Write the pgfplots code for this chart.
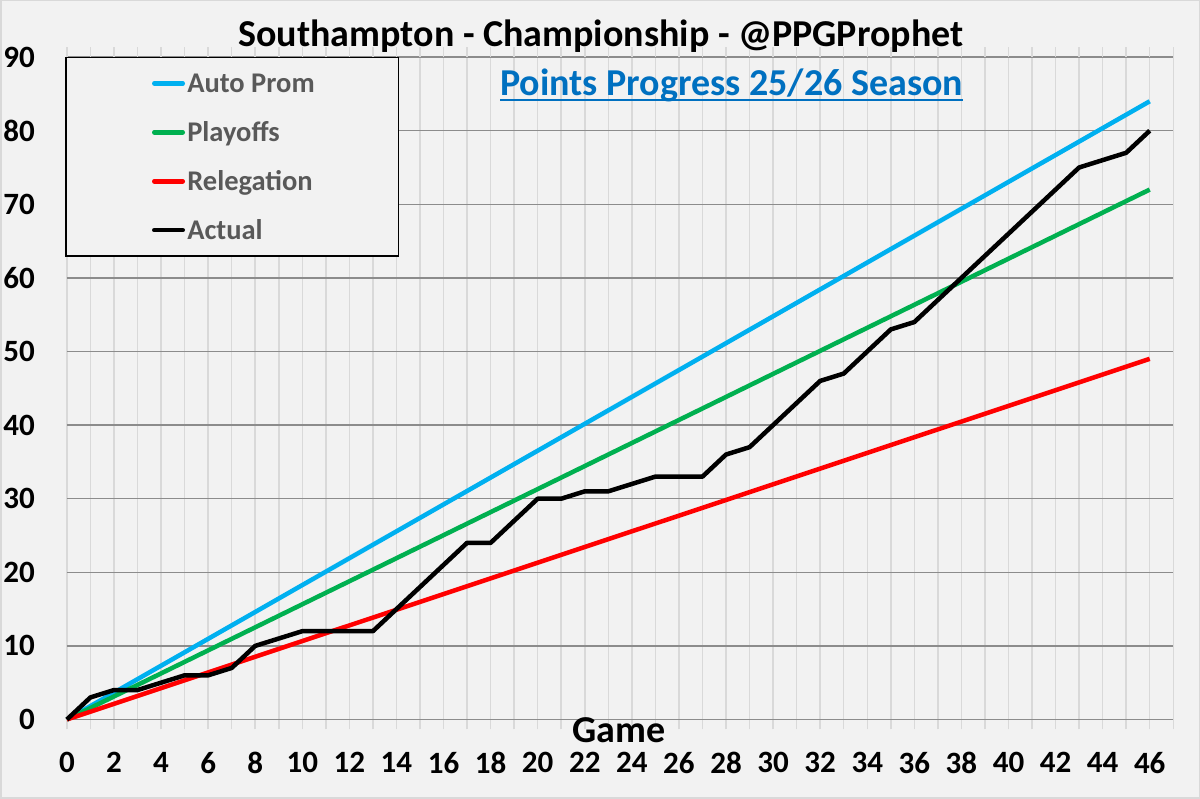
\documentclass[border=0pt]{standalone}
\usepackage{fontspec}
\setmainfont{Carlito}
\usepackage{pgfplots}
\pgfplotsset{compat=1.18}
\definecolor{bg}{HTML}{F2F2F2}
\definecolor{bordergray}{HTML}{D9D9D9}
\definecolor{vgrid}{HTML}{D9D9D9}
\definecolor{hgrid}{HTML}{8C8C8C}
\definecolor{autoblue}{HTML}{00B0F0}
\definecolor{playgreen}{HTML}{00B050}
\definecolor{relred}{HTML}{FF0000}
\definecolor{subblue}{HTML}{0070C0}
\definecolor{legendgray}{HTML}{595959}
\begin{document}
\begin{tikzpicture}
\path[use as bounding box] (0,0) rectangle (1200pt,799pt);
\fill[bg] (0,0) rectangle (1200pt,799pt);
\draw[bordergray, line width=1.5pt] (0.75pt,0.75pt) rectangle (1199.25pt,798.25pt);
\begin{axis}[
  at={(66.9pt,79.5pt)}, anchor=south west,
  scale only axis, width=1106.4pt, height=662.4pt,
  xmin=0, xmax=47, ymin=0, ymax=90,
  clip=false,
  xtick={0,2,...,46}, minor xtick={1,3,...,47},
  ytick={10,20,...,90},
  extra y ticks={0},
  extra y tick style={grid style={vgrid, line width=1.5pt}},
  xmajorgrids, xminorgrids, ymajorgrids,
  x grid style={vgrid, line width=1.5pt},
  y grid style={hgrid, line width=1.5pt},
  axis line style={draw=none},
  tick align=outside,
  major tick length=10pt, minor tick length=10pt,
  xtick style={vgrid, line width=1.5pt},
  ytick style={draw=none},
  /pgf/number format/assume math mode=true,
  ticklabel style={font=\fontsize{31}{31}\selectfont\bfseries, text=black},
  xticklabel style={anchor=north, inner sep=0pt, yshift=-22.5pt},
  yticklabel style={anchor=east, inner sep=0pt, xshift=-21.9pt},
  every axis title shift=0pt,
  title={Southampton - Championship - @PPGProphet},
  title style={at={(axis description cs:0.4827,1)}, anchor=base, yshift=10.1pt, inner sep=0pt, font=\fontsize{38}{38}\selectfont\bfseries},
  xlabel={Game},
  xlabel style={at={(axis description cs:0.499,0)}, anchor=base, yshift=-23.5pt, inner sep=0pt, font=\fontsize{38}{38}\selectfont\bfseries},
  legend cell align=left,
  legend style={at={(axis description cs:-0.0017,1.0002)}, anchor=north west,
    draw=black, line width=1.5pt, fill=bg,
    inner xsep=84pt, inner ysep=14.5pt, row sep=26.4pt, column sep=0pt,
    nodes={inner sep=0pt, text height=18pt, text depth=0pt, font=\fontsize{28.5}{28.5}\selectfont\bfseries, text=legendgray}},
  legend image code/.code={\path (0pt,-9pt) (33pt,9pt); \draw[#1, line cap=round] (2.25pt,0pt) -- (30.75pt,0pt);},
]
\addplot[autoblue, line width=4.5pt] coordinates {(0,0) (46,84)};
\addlegendentry{Auto Prom}
\addplot[playgreen, line width=4.5pt] coordinates {(0,0) (46,72)};
\addlegendentry{Playoffs}
\addplot[relred, line width=4.5pt] coordinates {(0,0) (46,49)};
\addlegendentry{Relegation}
\addplot[black, line width=4.5pt, line join=round] coordinates {
(0,0) (1,3) (2,4) (3,4) (4,5) (5,6) (6,6) (7,7) (8,10) (9,11)
(10,12) (11,12) (12,12) (13,12) (14,15) (15,18) (16,21) (17,24) (18,24) (19,27)
(20,30) (21,30) (22,31) (23,31) (24,32) (25,33) (26,33) (27,33) (28,36) (29,37)
(30,40) (31,43) (32,46) (33,47) (34,50) (35,53) (36,54) (37,57) (38,60) (39,63)
(40,66) (41,69) (42,72) (43,75) (44,76) (45,77) (46,80)};
\addlegendentry{Actual}
\node[anchor=base, inner sep=0pt, font=\fontsize{38}{38}\selectfont\bfseries, text=subblue]
  at (axis description cs:0.6007,0.9420)
  {\setbox0=\hbox{Points Progress 25/26 Season}\rlap{\rule[-5pt]{\wd0}{2pt}}\box0};
\end{axis}
\end{tikzpicture}
\end{document}
